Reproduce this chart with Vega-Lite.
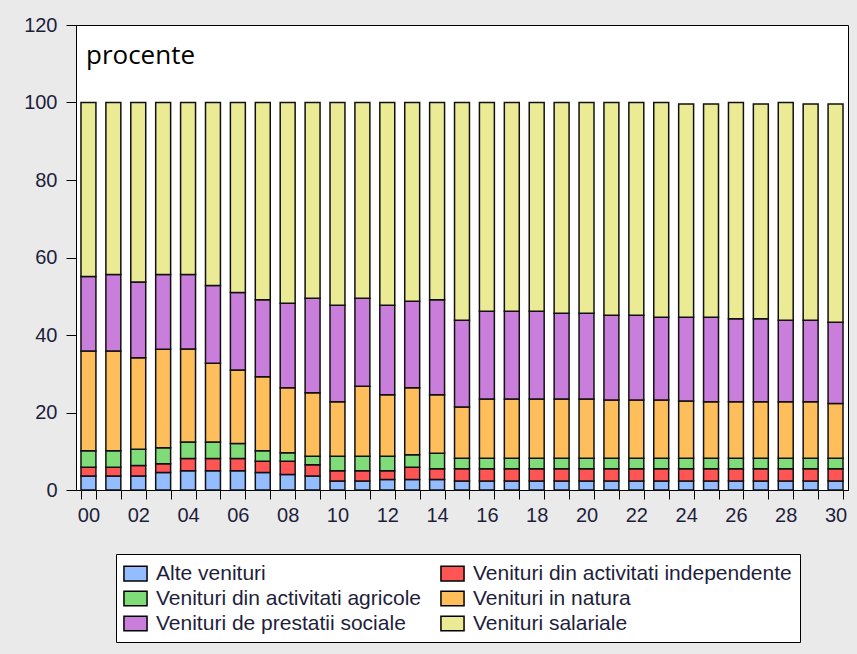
{
  "$schema": "https://vega.github.io/schema/vega-lite/v6.json",
  "autosize": {"type": "none"},
  "width": 772,
  "height": 465,
  "padding": {"left": 76, "top": 25, "right": 9, "bottom": 164},
  "background": "#eaeaea",
  "config": {
    "view": {"stroke": "black", "strokeWidth": 1, "fill": "white"},
    "axis": {"domainColor": "black", "tickColor": "black", "labelFont": "Liberation Sans", "labelFontSize": 20, "labelColor": "#1e1e3c", "grid": false, "title": null}
  },
  "datasets": {
    "venituri": [
      {"an":"00","serie":"Alte venituri","k":1,"v":3.6},{"an":"00","serie":"Venituri din activitati independente","k":2,"v":2.3},{"an":"00","serie":"Venituri din activitati agricole","k":3,"v":4.2},{"an":"00","serie":"Venituri in natura","k":4,"v":25.8},{"an":"00","serie":"Venituri de prestatii sociale","k":5,"v":19.2},{"an":"00","serie":"Venituri salariale","k":6,"v":44.9},
      {"an":"01","serie":"Alte venituri","k":1,"v":3.6},{"an":"01","serie":"Venituri din activitati independente","k":2,"v":2.3},{"an":"01","serie":"Venituri din activitati agricole","k":3,"v":4.2},{"an":"01","serie":"Venituri in natura","k":4,"v":25.8},{"an":"01","serie":"Venituri de prestatii sociale","k":5,"v":19.7},{"an":"01","serie":"Venituri salariale","k":6,"v":44.4},
      {"an":"02","serie":"Alte venituri","k":1,"v":3.6},{"an":"02","serie":"Venituri din activitati independente","k":2,"v":2.7},{"an":"02","serie":"Venituri din activitati agricole","k":3,"v":4.2},{"an":"02","serie":"Venituri in natura","k":4,"v":23.6},{"an":"02","serie":"Venituri de prestatii sociale","k":5,"v":19.6},{"an":"02","serie":"Venituri salariale","k":6,"v":46.3},
      {"an":"03","serie":"Alte venituri","k":1,"v":4.5},{"an":"03","serie":"Venituri din activitati independente","k":2,"v":2.3},{"an":"03","serie":"Venituri din activitati agricole","k":3,"v":4.1},{"an":"03","serie":"Venituri in natura","k":4,"v":25.4},{"an":"03","serie":"Venituri de prestatii sociale","k":5,"v":19.3},{"an":"03","serie":"Venituri salariale","k":6,"v":44.4},
      {"an":"04","serie":"Alte venituri","k":1,"v":5.0},{"an":"04","serie":"Venituri din activitati independente","k":2,"v":3.1},{"an":"04","serie":"Venituri din activitati agricole","k":3,"v":4.3},{"an":"04","serie":"Venituri in natura","k":4,"v":24.0},{"an":"04","serie":"Venituri de prestatii sociale","k":5,"v":19.2},{"an":"04","serie":"Venituri salariale","k":6,"v":44.4},
      {"an":"05","serie":"Alte venituri","k":1,"v":5.0},{"an":"05","serie":"Venituri din activitati independente","k":2,"v":3.1},{"an":"05","serie":"Venituri din activitati agricole","k":3,"v":4.3},{"an":"05","serie":"Venituri in natura","k":4,"v":20.3},{"an":"05","serie":"Venituri de prestatii sociale","k":5,"v":20.1},{"an":"05","serie":"Venituri salariale","k":6,"v":47.2},
      {"an":"06","serie":"Alte venituri","k":1,"v":5.0},{"an":"06","serie":"Venituri din activitati independente","k":2,"v":3.1},{"an":"06","serie":"Venituri din activitati agricole","k":3,"v":3.9},{"an":"06","serie":"Venituri in natura","k":4,"v":19.0},{"an":"06","serie":"Venituri de prestatii sociale","k":5,"v":20.0},{"an":"06","serie":"Venituri salariale","k":6,"v":49.0},
      {"an":"07","serie":"Alte venituri","k":1,"v":4.5},{"an":"07","serie":"Venituri din activitati independente","k":2,"v":2.9},{"an":"07","serie":"Venituri din activitati agricole","k":3,"v":2.7},{"an":"07","serie":"Venituri in natura","k":4,"v":19.1},{"an":"07","serie":"Venituri de prestatii sociale","k":5,"v":19.9},{"an":"07","serie":"Venituri salariale","k":6,"v":50.9},
      {"an":"08","serie":"Alte venituri","k":1,"v":4.0},{"an":"08","serie":"Venituri din activitati independente","k":2,"v":3.4},{"an":"08","serie":"Venituri din activitati agricole","k":3,"v":2.2},{"an":"08","serie":"Venituri in natura","k":4,"v":16.8},{"an":"08","serie":"Venituri de prestatii sociale","k":5,"v":21.8},{"an":"08","serie":"Venituri salariale","k":6,"v":51.8},
      {"an":"09","serie":"Alte venituri","k":1,"v":3.6},{"an":"09","serie":"Venituri din activitati independente","k":2,"v":2.9},{"an":"09","serie":"Venituri din activitati agricole","k":3,"v":2.2},{"an":"09","serie":"Venituri in natura","k":4,"v":16.4},{"an":"09","serie":"Venituri de prestatii sociale","k":5,"v":24.4},{"an":"09","serie":"Venituri salariale","k":6,"v":50.5},
      {"an":"10","serie":"Alte venituri","k":1,"v":2.3},{"an":"10","serie":"Venituri din activitati independente","k":2,"v":2.7},{"an":"10","serie":"Venituri din activitati agricole","k":3,"v":3.7},{"an":"10","serie":"Venituri in natura","k":4,"v":14.1},{"an":"10","serie":"Venituri de prestatii sociale","k":5,"v":24.9},{"an":"10","serie":"Venituri salariale","k":6,"v":52.3},
      {"an":"11","serie":"Alte venituri","k":1,"v":2.3},{"an":"11","serie":"Venituri din activitati independente","k":2,"v":2.7},{"an":"11","serie":"Venituri din activitati agricole","k":3,"v":3.7},{"an":"11","serie":"Venituri in natura","k":4,"v":18.1},{"an":"11","serie":"Venituri de prestatii sociale","k":5,"v":22.7},{"an":"11","serie":"Venituri salariale","k":6,"v":50.5},
      {"an":"12","serie":"Alte venituri","k":1,"v":2.7},{"an":"12","serie":"Venituri din activitati independente","k":2,"v":2.3},{"an":"12","serie":"Venituri din activitati agricole","k":3,"v":3.7},{"an":"12","serie":"Venituri in natura","k":4,"v":15.9},{"an":"12","serie":"Venituri de prestatii sociale","k":5,"v":23.1},{"an":"12","serie":"Venituri salariale","k":6,"v":52.3},
      {"an":"13","serie":"Alte venituri","k":1,"v":2.7},{"an":"13","serie":"Venituri din activitati independente","k":2,"v":3.2},{"an":"13","serie":"Venituri din activitati agricole","k":3,"v":3.2},{"an":"13","serie":"Venituri in natura","k":4,"v":17.3},{"an":"13","serie":"Venituri de prestatii sociale","k":5,"v":22.3},{"an":"13","serie":"Venituri salariale","k":6,"v":51.3},
      {"an":"14","serie":"Alte venituri","k":1,"v":2.7},{"an":"14","serie":"Venituri din activitati independente","k":2,"v":2.8},{"an":"14","serie":"Venituri din activitati agricole","k":3,"v":4.0},{"an":"14","serie":"Venituri in natura","k":4,"v":15.1},{"an":"14","serie":"Venituri de prestatii sociale","k":5,"v":24.5},{"an":"14","serie":"Venituri salariale","k":6,"v":50.9},
      {"an":"15","serie":"Alte venituri","k":1,"v":2.3},{"an":"15","serie":"Venituri din activitati independente","k":2,"v":3.2},{"an":"15","serie":"Venituri din activitati agricole","k":3,"v":2.7},{"an":"15","serie":"Venituri in natura","k":4,"v":13.2},{"an":"15","serie":"Venituri de prestatii sociale","k":5,"v":22.4},{"an":"15","serie":"Venituri salariale","k":6,"v":56.2},
      {"an":"16","serie":"Alte venituri","k":1,"v":2.3},{"an":"16","serie":"Venituri din activitati independente","k":2,"v":3.2},{"an":"16","serie":"Venituri din activitati agricole","k":3,"v":2.7},{"an":"16","serie":"Venituri in natura","k":4,"v":15.3},{"an":"16","serie":"Venituri de prestatii sociale","k":5,"v":22.6},{"an":"16","serie":"Venituri salariale","k":6,"v":53.9},
      {"an":"17","serie":"Alte venituri","k":1,"v":2.3},{"an":"17","serie":"Venituri din activitati independente","k":2,"v":3.2},{"an":"17","serie":"Venituri din activitati agricole","k":3,"v":2.7},{"an":"17","serie":"Venituri in natura","k":4,"v":15.3},{"an":"17","serie":"Venituri de prestatii sociale","k":5,"v":22.6},{"an":"17","serie":"Venituri salariale","k":6,"v":53.9},
      {"an":"18","serie":"Alte venituri","k":1,"v":2.3},{"an":"18","serie":"Venituri din activitati independente","k":2,"v":3.2},{"an":"18","serie":"Venituri din activitati agricole","k":3,"v":2.7},{"an":"18","serie":"Venituri in natura","k":4,"v":15.3},{"an":"18","serie":"Venituri de prestatii sociale","k":5,"v":22.6},{"an":"18","serie":"Venituri salariale","k":6,"v":53.9},
      {"an":"19","serie":"Alte venituri","k":1,"v":2.3},{"an":"19","serie":"Venituri din activitati independente","k":2,"v":3.2},{"an":"19","serie":"Venituri din activitati agricole","k":3,"v":2.7},{"an":"19","serie":"Venituri in natura","k":4,"v":15.3},{"an":"19","serie":"Venituri de prestatii sociale","k":5,"v":22.1},{"an":"19","serie":"Venituri salariale","k":6,"v":54.4},
      {"an":"20","serie":"Alte venituri","k":1,"v":2.3},{"an":"20","serie":"Venituri din activitati independente","k":2,"v":3.2},{"an":"20","serie":"Venituri din activitati agricole","k":3,"v":2.7},{"an":"20","serie":"Venituri in natura","k":4,"v":15.3},{"an":"20","serie":"Venituri de prestatii sociale","k":5,"v":22.1},{"an":"20","serie":"Venituri salariale","k":6,"v":54.4},
      {"an":"21","serie":"Alte venituri","k":1,"v":2.3},{"an":"21","serie":"Venituri din activitati independente","k":2,"v":3.2},{"an":"21","serie":"Venituri din activitati agricole","k":3,"v":2.7},{"an":"21","serie":"Venituri in natura","k":4,"v":15.0},{"an":"21","serie":"Venituri de prestatii sociale","k":5,"v":21.9},{"an":"21","serie":"Venituri salariale","k":6,"v":54.9},
      {"an":"22","serie":"Alte venituri","k":1,"v":2.3},{"an":"22","serie":"Venituri din activitati independente","k":2,"v":3.2},{"an":"22","serie":"Venituri din activitati agricole","k":3,"v":2.7},{"an":"22","serie":"Venituri in natura","k":4,"v":15.0},{"an":"22","serie":"Venituri de prestatii sociale","k":5,"v":21.9},{"an":"22","serie":"Venituri salariale","k":6,"v":54.9},
      {"an":"23","serie":"Alte venituri","k":1,"v":2.3},{"an":"23","serie":"Venituri din activitati independente","k":2,"v":3.2},{"an":"23","serie":"Venituri din activitati agricole","k":3,"v":2.7},{"an":"23","serie":"Venituri in natura","k":4,"v":15.0},{"an":"23","serie":"Venituri de prestatii sociale","k":5,"v":21.4},{"an":"23","serie":"Venituri salariale","k":6,"v":55.4},
      {"an":"24","serie":"Alte venituri","k":1,"v":2.3},{"an":"24","serie":"Venituri din activitati independente","k":2,"v":3.2},{"an":"24","serie":"Venituri din activitati agricole","k":3,"v":2.7},{"an":"24","serie":"Venituri in natura","k":4,"v":14.8},{"an":"24","serie":"Venituri de prestatii sociale","k":5,"v":21.6},{"an":"24","serie":"Venituri salariale","k":6,"v":55.0},
      {"an":"25","serie":"Alte venituri","k":1,"v":2.3},{"an":"25","serie":"Venituri din activitati independente","k":2,"v":3.2},{"an":"25","serie":"Venituri din activitati agricole","k":3,"v":2.7},{"an":"25","serie":"Venituri in natura","k":4,"v":14.6},{"an":"25","serie":"Venituri de prestatii sociale","k":5,"v":21.8},{"an":"25","serie":"Venituri salariale","k":6,"v":55.0},
      {"an":"26","serie":"Alte venituri","k":1,"v":2.3},{"an":"26","serie":"Venituri din activitati independente","k":2,"v":3.2},{"an":"26","serie":"Venituri din activitati agricole","k":3,"v":2.7},{"an":"26","serie":"Venituri in natura","k":4,"v":14.6},{"an":"26","serie":"Venituri de prestatii sociale","k":5,"v":21.4},{"an":"26","serie":"Venituri salariale","k":6,"v":55.8},
      {"an":"27","serie":"Alte venituri","k":1,"v":2.3},{"an":"27","serie":"Venituri din activitati independente","k":2,"v":3.2},{"an":"27","serie":"Venituri din activitati agricole","k":3,"v":2.7},{"an":"27","serie":"Venituri in natura","k":4,"v":14.6},{"an":"27","serie":"Venituri de prestatii sociale","k":5,"v":21.4},{"an":"27","serie":"Venituri salariale","k":6,"v":55.4},
      {"an":"28","serie":"Alte venituri","k":1,"v":2.3},{"an":"28","serie":"Venituri din activitati independente","k":2,"v":3.2},{"an":"28","serie":"Venituri din activitati agricole","k":3,"v":2.7},{"an":"28","serie":"Venituri in natura","k":4,"v":14.6},{"an":"28","serie":"Venituri de prestatii sociale","k":5,"v":21.0},{"an":"28","serie":"Venituri salariale","k":6,"v":56.2},
      {"an":"29","serie":"Alte venituri","k":1,"v":2.3},{"an":"29","serie":"Venituri din activitati independente","k":2,"v":3.2},{"an":"29","serie":"Venituri din activitati agricole","k":3,"v":2.7},{"an":"29","serie":"Venituri in natura","k":4,"v":14.6},{"an":"29","serie":"Venituri de prestatii sociale","k":5,"v":21.0},{"an":"29","serie":"Venituri salariale","k":6,"v":55.8},
      {"an":"30","serie":"Alte venituri","k":1,"v":2.3},{"an":"30","serie":"Venituri din activitati independente","k":2,"v":3.2},{"an":"30","serie":"Venituri din activitati agricole","k":3,"v":2.7},{"an":"30","serie":"Venituri in natura","k":4,"v":14.1},{"an":"30","serie":"Venituri de prestatii sociale","k":5,"v":21.0},{"an":"30","serie":"Venituri salariale","k":6,"v":56.3}
    ],
    "eticheta": [{"text": "procente", "an": "00", "y": 110}]
  },
  "layer": [
    {
      "data": {"name": "venituri"},
      "mark": {"type": "bar", "stroke": "#111", "strokeWidth": 1.5, "opacity": 1},
      "encoding": {
        "x": {
          "field": "an", "type": "ordinal",
          "scale": {"paddingInner": 0.4, "paddingOuter": 0.2},
          "axis": {"tickBand": "extent", "tickSize": 9, "labelPadding": 6, "labelAngle": 0, "labelOverlap": false,
                   "labelExpr": "toNumber(datum.value) % 2 == 0 ? datum.value : ''"}
        },
        "y": {
          "field": "v", "type": "quantitative", "stack": "zero",
          "scale": {"domain": [0, 120], "nice": false},
          "axis": {"values": [0, 20, 40, 60, 80, 100, 120], "tickSize": 10, "labelPadding": 9}
        },
        "order": {"field": "k", "type": "quantitative"},
        "color": {
          "field": "serie", "type": "nominal",
          "scale": {
            "domain": ["Alte venituri", "Venituri din activitati independente", "Venituri din activitati agricole", "Venituri in natura", "Venituri de prestatii sociale", "Venituri salariale"],
            "range": ["#93bdff", "#ff5555", "#80dc78", "#ffbe5c", "#c97edb", "#ebeb96"]
          },
          "legend": {
            "title": null, "orient": "none", "legendX": 40, "legendY": 529,
            "direction": "horizontal", "columns": 2,
            "strokeColor": "black", "fillColor": "white", "padding": 8,
            "labelFont": "Liberation Sans", "labelFontSize": 21, "labelColor": "#1e1e3c", "labelLimit": 500,
            "labelOffset": 9, "rowPadding": 3, "columnPadding": 16,
            "symbolType": "M-1.1,-0.7H1.1V0.7H-1.1Z", "symbolSize": 441,
            "symbolStrokeColor": "black", "symbolStrokeWidth": 1.5, "symbolOpacity": 1
          }
        }
      }
    },
    {
      "data": {"name": "eticheta"},
      "mark": {"type": "text", "align": "left", "baseline": "alphabetic", "dx": 5, "font": "Open Sans", "fontSize": 26, "color": "black"},
      "encoding": {
        "x": {"field": "an", "type": "ordinal", "bandPosition": 0},
        "y": {"field": "y", "type": "quantitative"},
        "text": {"field": "text"}
      }
    }
  ]
}
